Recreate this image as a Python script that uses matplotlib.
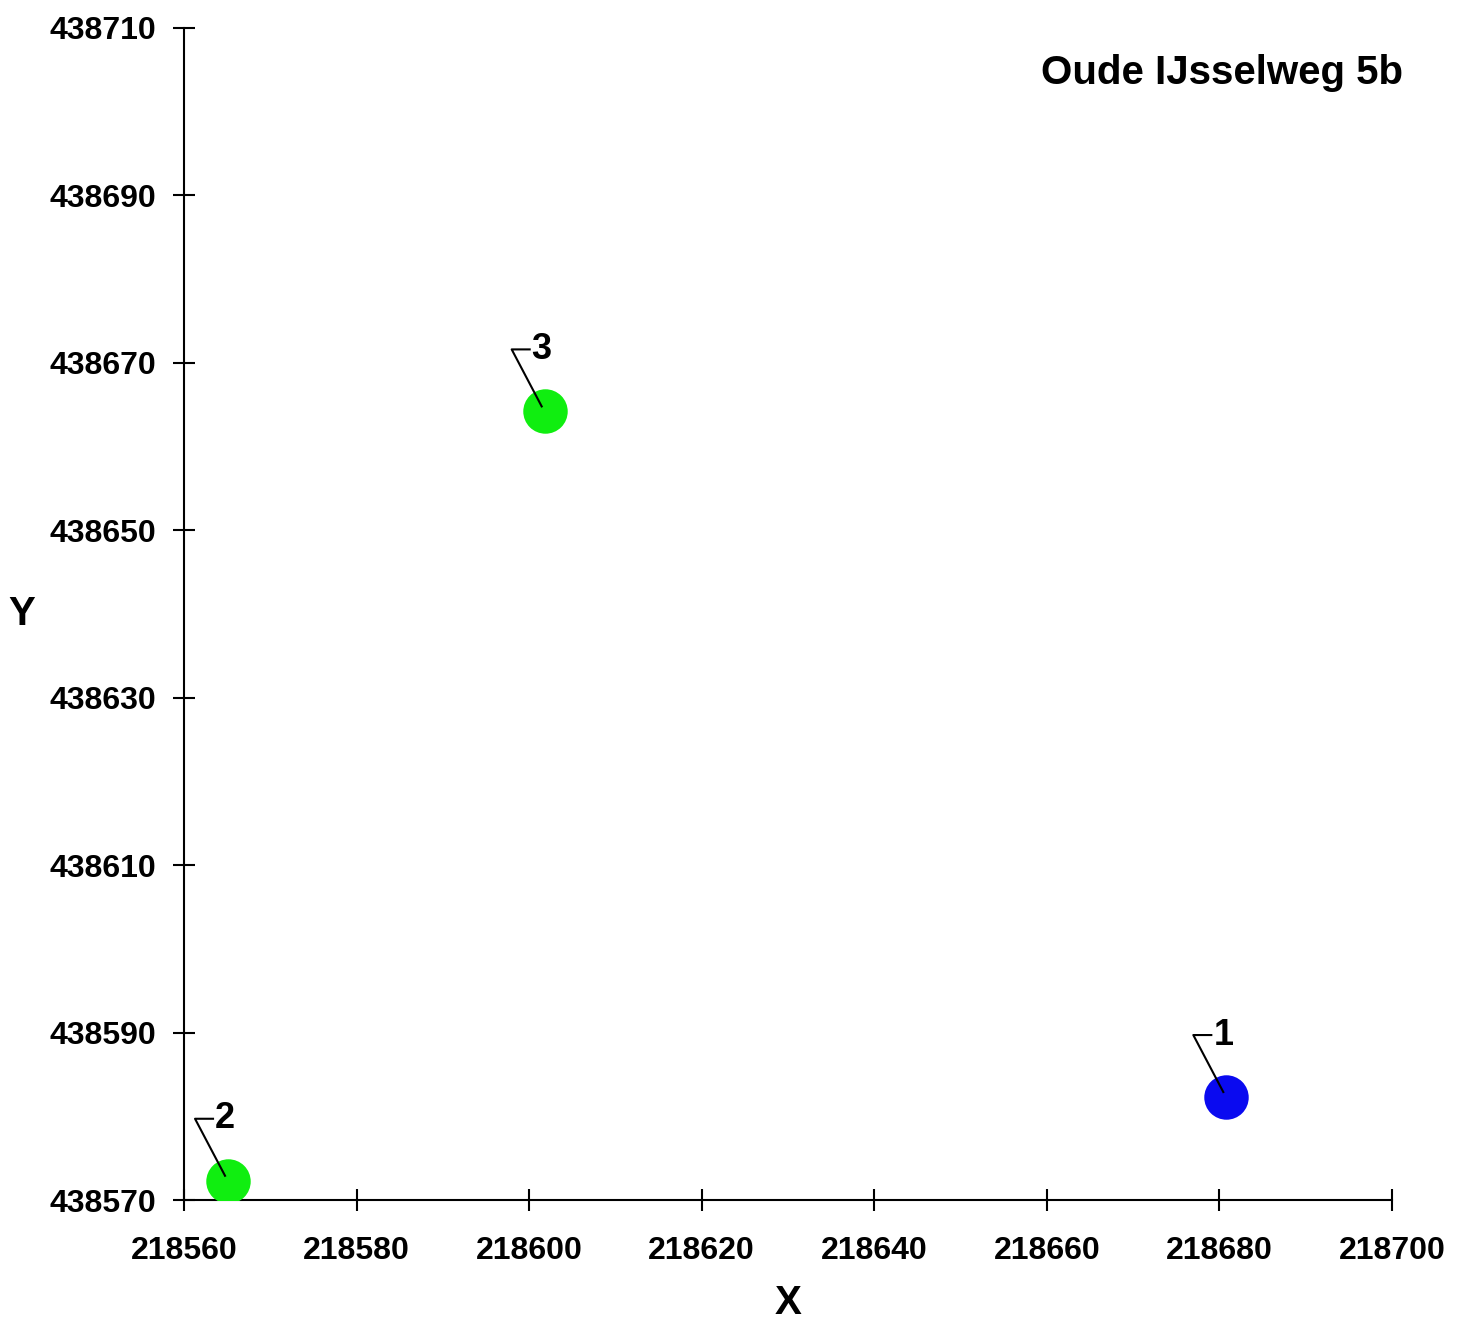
import matplotlib.pyplot as plt
from matplotlib.transforms import Affine2D

# punten (RD-coordinaten)
punt_labels = ["1", "2", "3"]
x_coords = [218680.8, 218565.1, 218601.8]
y_coords = [438582.3, 438572.3, 438664.2]
kleuren = ["#0a0af0", "#10ee10", "#10ee10"]

x_ticks = [218560, 218580, 218600, 218620, 218640, 218660, 218680, 218700]
y_ticks = [438570, 438590, 438610, 438630, 438650, 438670, 438690, 438710]
titel = "Oude IJsselweg 5b"

plt.rcParams["font.family"] = ["Liberation Sans", "DejaVu Sans"]
plt.rcParams["font.weight"] = "bold"

fig = plt.figure(figsize=(14.64, 13.2), dpi=100)
ax = fig.add_axes([0.1257, 0.0909, 0.8251, 0.8879])

ax.set_xlim(218560, 218700)
ax.set_ylim(438570, 438710)
ax.set_xticks(x_ticks)
ax.set_yticks(y_ticks)
ax.set_xticklabels([str(t) for t in x_ticks])
ax.set_yticklabels([str(t) for t in y_ticks])

for x, y, lab, kl in zip(x_coords, y_coords, punt_labels, kleuren):
    ax.plot([x], [y], "o", color=kl, markersize=32, markeredgewidth=0, zorder=3)
    # leader line in pixels rond het punt
    px, py = ax.transData.transform((x, y))
    tr = Affine2D().translate(px, py)
    ax.plot([-3, -33, -15], [5, 62, 62], color="black", lw=1.5,
            transform=tr, zorder=4, clip_on=False)
    ax.text(-13, 62, lab, transform=tr, ha="left", va="center",
            fontsize=26, fontweight="bold", zorder=5)

for s in ["top", "right"]:
    ax.spines[s].set_visible(False)
for s in ["left", "bottom"]:
    ax.spines[s].set_linewidth(1.5)

ax.tick_params(axis="both", direction="inout", length=16, width=1.5,
               labelsize=23)
ax.tick_params(axis="x", pad=18)
ax.tick_params(axis="y", pad=12)

ax.set_xlabel("X", fontsize=29, fontweight="bold", labelpad=13)
ax.set_ylabel("Y", fontsize=29, fontweight="bold", rotation=0, labelpad=20,
              va="center")

fig.text(1403 / 1464, 1 - 73 / 1320, titel, ha="right", va="center",
         fontsize=29, fontweight="bold")

fig.savefig("out.png", dpi=100)
